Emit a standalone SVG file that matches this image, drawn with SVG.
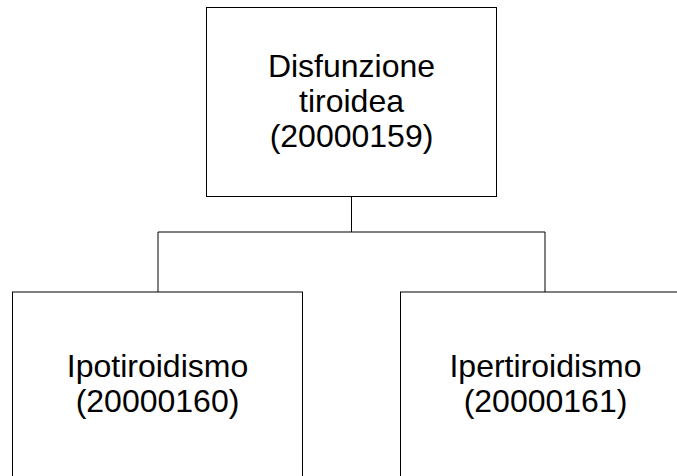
<svg xmlns="http://www.w3.org/2000/svg" width="677" height="476" viewBox="0 0 677 476">
<style>
.box{fill:#fff;stroke:#000;stroke-width:1}
.lbl{font-family:"Liberation Sans",Arial,sans-serif;font-size:32px;fill:#000;text-anchor:middle}
.conn{fill:none;stroke:#000;stroke-width:1}
</style>
<rect width="677" height="476" fill="#fff"/>
<g id="connectors">
<path class="conn" d="M351.5,196.5 V232 M158,232 H545 M158,232 V292 M545,232 V292"/>
</g>
<g id="n20000159">
<rect class="box" x="206.5" y="7.5" width="290" height="189"/>
<text class="lbl" x="351.5" y="77">Disfunzione</text>
<text class="lbl" x="351.5" y="112">tiroidea</text>
<text class="lbl" x="351.5" y="147">(20000159)</text>
</g>
<g id="n20000160">
<rect class="box" x="12.5" y="292" width="290" height="190"/>
<text class="lbl" x="157.5" y="377">Ipotiroidismo</text>
<text class="lbl" x="157.5" y="412">(20000160)</text>
</g>
<g id="n20000161">
<rect class="box" x="400.5" y="292" width="290" height="190"/>
<text class="lbl" x="545.5" y="377">Ipertiroidismo</text>
<text class="lbl" x="545.5" y="412">(20000161)</text>
</g>
</svg>
